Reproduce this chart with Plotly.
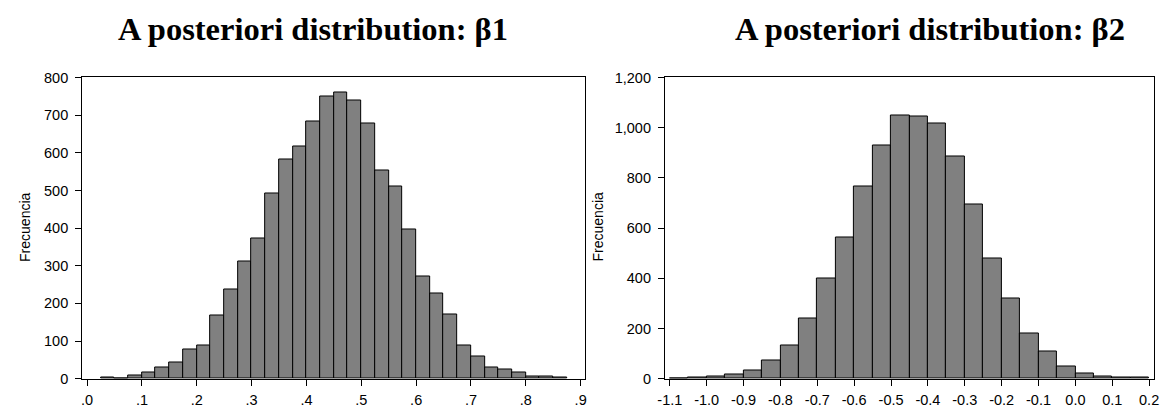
import plotly.graph_objects as go

W, H = 1166, 411

# ---- data -------------------------------------------------------------
title_1 = "A posteriori distribution: β1"
title_2 = "A posteriori distribution: β2"
y_label = "Frecuencia"

b1_bin_start = 0.025
b1_bin_width = 0.025
b1_counts = [3, 1, 8, 17, 30, 44, 78, 88, 168, 238, 312, 372, 491, 581, 617,
             684, 749, 760, 738, 677, 552, 510, 397, 271, 225, 171, 88, 60,
             30, 25, 16, 6, 7, 4]

b2_bin_start = -1.1
b2_bin_width = 0.05
b2_counts = [1, 6, 10, 17, 33, 73, 133, 240, 398, 564, 765, 928, 1047, 1043,
             1016, 886, 693, 480, 320, 181, 107, 50, 22, 10, 6, 4]

b1_tickvals = [0.0, 0.1, 0.2, 0.3, 0.4, 0.5, 0.6, 0.7, 0.8, 0.9]
b1_ticktext = [".0", ".1", ".2", ".3", ".4", ".5", ".6", ".7", ".8", ".9"]
b2_tickvals = [-1.1, -1.0, -0.9, -0.8, -0.7, -0.6, -0.5, -0.4, -0.3, -0.2,
               -0.1, 0.0, 0.1, 0.2]
b2_ticktext = ["-1.1", "-1.0", "-0.9", "-0.8", "-0.7", "-0.6", "-0.5", "-0.4",
               "-0.3", "-0.2", "-0.1", "0.0", "0.1", "0.2"]
b1_yticks = [0, 100, 200, 300, 400, 500, 600, 700, 800]
b2_yticks = [0, 200, 400, 600, 800, 1000, 1200]

# ---- derived ----------------------------------------------------------
x1 = [b1_bin_start + b1_bin_width * (i + 0.5) for i in range(len(b1_counts))]
x2 = [b2_bin_start + b2_bin_width * (i + 0.5) for i in range(len(b2_counts))]

BAR = "#808080"
tickfont = dict(family="Liberation Sans, Arial, sans-serif", size=14.5, color="#000")

fig = go.Figure()
fig.add_trace(go.Bar(x=x1, y=b1_counts, width=b1_bin_width,
                     marker=dict(color=BAR, line=dict(color="#000", width=1)),
                     xaxis="x", yaxis="y", showlegend=False, hoverinfo="x+y"))
fig.add_trace(go.Bar(x=x2, y=b2_counts, width=b2_bin_width,
                     marker=dict(color=BAR, line=dict(color="#000", width=1)),
                     xaxis="x2", yaxis="y2", showlegend=False, hoverinfo="x+y"))

ax_common = dict(showline=True, linecolor="#000", linewidth=1, mirror=True,
                 ticks="outside", ticklen=6, tickcolor="#000", tickwidth=1,
                 showgrid=False, zeroline=False, tickfont=tickfont)

ydom = [(H - 385.7) / H, (H - 72.3) / H]

fig.update_layout(
    width=W, height=H,
    margin=dict(l=0, r=0, t=0, b=0),
    paper_bgcolor="white", plot_bgcolor="white",
    bargap=0,
    xaxis=dict(domain=[75 / W, 583 / W], range=[-0.009, 0.907],
               tickvals=b1_tickvals, ticktext=b1_ticktext, anchor="y",
               ticklabelstandoff=2, **ax_common),
    yaxis=dict(domain=ydom, range=[0, 800], tickvals=b1_yticks,
               anchor="x", ticklabelstandoff=4, **ax_common),
    xaxis2=dict(domain=[664.3 / W, 1158.7 / W], range=[-1.1134, 0.2126],
                tickvals=b2_tickvals, ticktext=b2_ticktext, anchor="y2",
                ticklabelstandoff=2, **ax_common),
    yaxis2=dict(domain=ydom, range=[0, 1200], tickvals=b2_yticks, tickformat=",",
                anchor="x2", ticklabelstandoff=4, **ax_common),
)

title_font = dict(family="Liberation Serif, Times New Roman, serif", size=32.5, color="#000")
fig.add_annotation(text="<b>" + title_1 + "</b>", xref="paper", yref="paper",
                   x=308.5 / W, y=1 - 22 / H, xanchor="center", yanchor="middle",
                   showarrow=False, font=title_font)
fig.add_annotation(text="<b>" + title_2 + "</b>", xref="paper", yref="paper",
                   x=932.5 / W, y=1 - 22 / H, xanchor="center", yanchor="middle",
                   showarrow=False, font=title_font)

lab_font = dict(family="Liberation Sans, Arial, sans-serif", size=14, color="#000")
fig.add_annotation(text=y_label, xref="paper", yref="paper", x=17 / W, y=1 - 228 / H,
                   xanchor="center", yanchor="middle", textangle=-90,
                   showarrow=False, font=lab_font)
fig.add_annotation(text=y_label, xref="paper", yref="paper", x=597 / W, y=1 - 228 / H,
                   xanchor="center", yanchor="middle", textangle=-90,
                   showarrow=False, font=lab_font)

fig.write_html("out.html")
